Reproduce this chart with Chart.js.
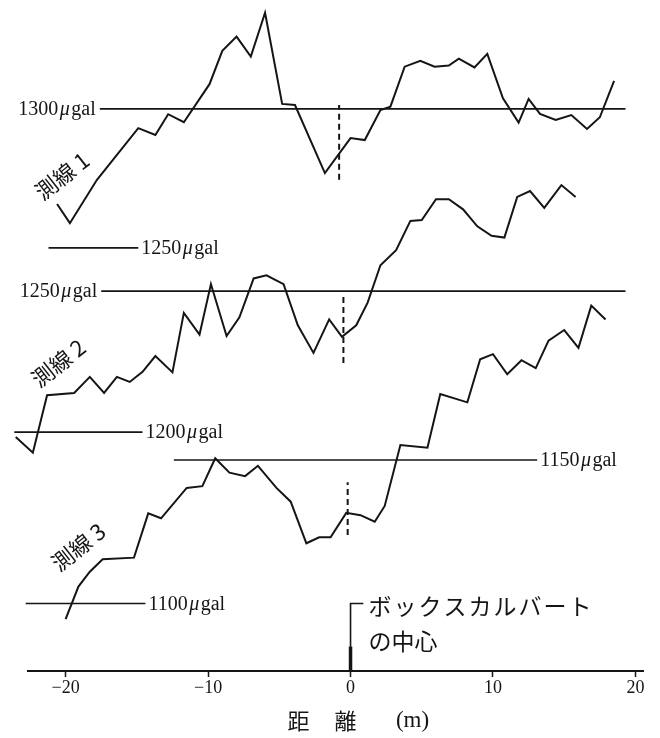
<!DOCTYPE html>
<html>
<head>
<meta charset="utf-8">
<script src="https://cdn.jsdelivr.net/npm/chart.js@4"></script>
<style>
  body { margin: 0; background: #fff; }
  canvas { display: block; }
</style>
</head>
<body>
<canvas id="gravity_chart" width="660" height="738"></canvas>
<script>
// 距離 (m) と 重力値 (µgal)
const line1X = [-20.6, -19.7, -17.8, -14.9, -13.7, -12.8, -11.7, -9.9, -9.0, -8.0,
                -7.0, -6.0, -4.8, -3.9, -1.8, 0.0, 1.0, 2.1, 2.8, 3.8,
                4.9, 5.9, 6.9, 7.6, 8.7, 9.6, 10.7, 11.8, 12.5, 13.3,
                14.4, 15.5, 16.6, 17.5, 18.5];
const line1G = [1265.8, 1258.9, 1274.5, 1293.1, 1290.6, 1298.1, 1295.2, 1308.9, 1320.9, 1326.0,
                1318.8, 1334.6, 1301.8, 1301.4, 1276.9, 1289.5, 1288.8, 1299.6, 1300.8, 1315.2,
                1317.3, 1315.2, 1315.6, 1318.1, 1314.9, 1319.8, 1303.8, 1295.1, 1303.6, 1298.2,
                1296.0, 1297.8, 1292.8, 1297.0, 1310.1];

const line2X = [-23.5, -22.3, -21.3, -19.4, -18.3, -17.3, -16.4, -15.5, -14.6, -13.7,
                -12.5, -11.7, -10.6, -9.8, -8.7, -7.8, -6.8, -5.9, -4.7, -3.7,
                -2.6, -1.5, -0.6, 0.4, 1.2, 2.1, 3.2, 4.2, 5.0, 6.0,
                6.9, 7.9, 8.9, 9.9, 10.8, 11.7, 12.6, 13.6, 14.8, 15.8];
const line2G = [1198.3, 1192.7, 1213.1, 1213.9, 1219.6, 1213.9, 1219.6, 1217.8, 1221.4, 1227.0,
                1221.2, 1242.3, 1234.6, 1252.5, 1234.1, 1240.7, 1254.5, 1255.6, 1252.5, 1237.9,
                1228.1, 1240.0, 1233.8, 1237.9, 1245.9, 1259.2, 1264.5, 1274.9, 1275.2, 1282.6,
                1282.6, 1279.0, 1273.0, 1269.6, 1269.0, 1283.4, 1285.5, 1279.5, 1287.6, 1283.4];

const line3X = [-20.0, -19.1, -18.3, -17.4, -15.2, -14.2, -13.3, -11.5, -10.4, -9.5,
                -8.5, -7.4, -6.5, -5.2, -4.2, -3.1, -2.2, -1.4, -0.3, 0.7,
                1.7, 2.4, 3.5, 5.4, 6.3, 8.2, 9.1, 10.0, 11.0, 12.0,
                13.0, 13.9, 15.0, 16.0, 16.9, 17.9];
const line3G = [1094.6, 1105.9, 1111.1, 1115.4, 1116.0, 1131.4, 1129.7, 1140.3, 1140.9, 1150.6,
                1145.6, 1144.4, 1148.0, 1140.3, 1135.5, 1121.0, 1123.1, 1123.1, 1131.6, 1130.8,
                1128.5, 1134.0, 1155.2, 1154.3, 1173.0, 1170.1, 1185.1, 1186.9, 1179.9, 1184.8,
                1182.0, 1191.6, 1195.3, 1189.1, 1203.8, 1199.0];

// 基準線: value, from, to (m)
const refValues = [1300, 1250, 1250, 1200, 1150, 1100];
const refFrom   = [-17.6, -21.2, -17.5, -23.6, -12.4, -22.8];
const refTo     = [19.3, -14.9, 19.3, -14.6, 13.1, -14.4];
const refAxis   = ['y1', 'y1', 'y2', 'y2', 'y3', 'y3'];

// 破線 (中心位置)
const dashX    = [-0.8, -0.5, -0.2];
const dashLow  = [1274.5, 1224.5, 1123.9];
const dashHigh = [1301.4, 1249.3, 1142.3];

const xTicks = [-20, -10, 0, 10, 20];
const lineNames = ['測線 1', '測線 2', '測線 3'];

const black = '#151515';

function pts(xs, ys) {
    return xs.map((x, i) => ({ x: x, y: ys[i] }));
}

const datasets = [
    { data: pts(line1X, line1G), yAxisID: 'y1' },
    { data: pts(line2X, line2G), yAxisID: 'y2' },
    { data: pts(line3X, line3G), yAxisID: 'y3' }
];

refValues.forEach((v, i) => {
    datasets.push({
        data: [{ x: refFrom[i], y: v }, { x: refTo[i], y: v }],
        yAxisID: refAxis[i],
        borderWidth: 1.6
    });
});

dashX.forEach((x, i) => {
    datasets.push({
        data: [{ x: x, y: dashLow[i] }, { x: x, y: dashHigh[i] }],
        yAxisID: 'y' + (i + 1),
        borderDash: [6, 4],
        borderWidth: 2
    });
});

// ボックスカルバートの中心 marker (on line 3 scale)
datasets.push({
    data: [{ x: 0.9, y: 1100 }, { x: 0, y: 1100 }, { x: 0, y: 1076.5 }],
    yAxisID: 'y3',
    borderWidth: 1.6
});
datasets.push({
    data: [{ x: 0, y: 1076.5 }, { x: 0, y: 1085 }],
    yAxisID: 'y3',
    borderWidth: 3.5
});

datasets.forEach(d => { d.clip = false; });

function drawGal(ctx, num, x, y, align) {
    const f = '20px "Liberation Serif"';
    const fi = 'italic 20px "Liberation Serif"';
    ctx.font = f;
    const w1 = ctx.measureText(num).width;
    ctx.font = fi;
    const w2 = ctx.measureText('μ').width;
    ctx.font = f;
    const w3 = ctx.measureText('gal').width;
    const sp = 1.5;
    const total = w1 + w2 + w3 + sp * 2;
    let x0 = align === 'right' ? x - total : x;
    ctx.textAlign = 'left';
    ctx.textBaseline = 'middle';
    ctx.fillText(num, x0, y);
    ctx.font = fi;
    ctx.fillText('μ', x0 + w1 + sp, y);
    ctx.font = f;
    ctx.fillText('gal', x0 + w1 + w2 + sp * 2, y);
}

const textPlugin = {
    id: 'texts',
    afterDatasetsDraw(chart) {
        const ctx = chart.ctx;
        const xs = chart.scales.x;
        ctx.save();
        ctx.fillStyle = black;

        // µgal labels next to reference lines
        refValues.forEach((v, i) => {
            const ys = chart.scales[refAxis[i]];
            const py = ys.getPixelForValue(v) + 1;
            const leftLabel = (i === 0 || i === 2);
            if (leftLabel) {
                drawGal(ctx, String(v), xs.getPixelForValue(refFrom[i]) - 4, py, 'right');
            } else {
                drawGal(ctx, String(v), xs.getPixelForValue(refTo[i]) + 3, py, 'left');
            }
        });

        // 測線 labels
        const nameX = [-20.25, -20.5, -19.1];
        const nameY = [1275.9, 1224.5, 1119.7];
        lineNames.forEach((n, i) => {
            const px = xs.getPixelForValue(nameX[i]);
            const py = chart.scales['y' + (i + 1)].getPixelForValue(nameY[i]);
            ctx.save();
            ctx.translate(px, py);
            ctx.rotate(-38 * Math.PI / 180);
            ctx.font = '22px "Noto Sans CJK JP"';
            ctx.textAlign = 'center';
            ctx.textBaseline = 'middle';
            ctx.fillText(n, 0, 0);
            ctx.restore();
        });

        // culvert text
        const cx = xs.getPixelForValue(0);
        const cy = chart.scales.y3.getPixelForValue(1100);
        ctx.font = '23px "Noto Sans CJK JP"';
        ctx.textAlign = 'left';
        ctx.textBaseline = 'middle';
        ctx.letterSpacing = '2px';
        ctx.fillText('ボックスカルバート', cx + 18, cy + 3);
        ctx.letterSpacing = '0px';
        ctx.fillText('の中心', cx + 18, cy + 38);

        // axis title
        const ty = chart.chartArea.bottom + 50;
        ctx.textAlign = 'center';
        ctx.font = '22px "Noto Sans CJK JP"';
        ctx.fillText('距', cx - 52, ty);
        ctx.fillText('離', cx - 5, ty);
        ctx.font = '23px "Liberation Serif"';
        ctx.fillText('(m)', cx + 62, ty);
        ctx.restore();
    }
};

new Chart(document.getElementById('gravity_chart').getContext('2d'), {
    type: 'line',
    data: { datasets: datasets },
    options: {
        responsive: false,
        animation: false,
        events: [],
        layout: { padding: { left: 28, right: 17, top: 8, bottom: 0 } },
        plugins: { legend: { display: false }, tooltip: { enabled: false } },
        elements: {
            point: { radius: 0 },
            line: { tension: 0, borderColor: black, borderWidth: 2, fill: false }
        },
        scales: {
            x: {
                type: 'linear',
                min: -22.64,
                max: 20.53,
                afterFit: s => { s.height = 67; },
                afterBuildTicks: s => { s.ticks = xTicks.map(v => ({ value: v })); },
                border: { display: true, color: black, width: 2 },
                grid: { drawOnChartArea: false, tickLength: 6, tickColor: black, tickWidth: 1.5 },
                ticks: {
                    padding: 0,
                    color: black,
                    font: { family: 'Liberation Serif', size: 18 },
                    callback: v => v < 0 ? '−' + Math.abs(v) : String(v)
                }
            },
            y1: { type: 'linear', display: false, min: 1097.8, max: 1336.3 },
            y2: { type: 'linear', display: false, min: 1115.3, max: 1350.4 },
            y3: { type: 'linear', display: false, min: 1076.5, max: 1307.5 }
        }
    },
    plugins: [textPlugin]
});
</script>
</body>
</html>
